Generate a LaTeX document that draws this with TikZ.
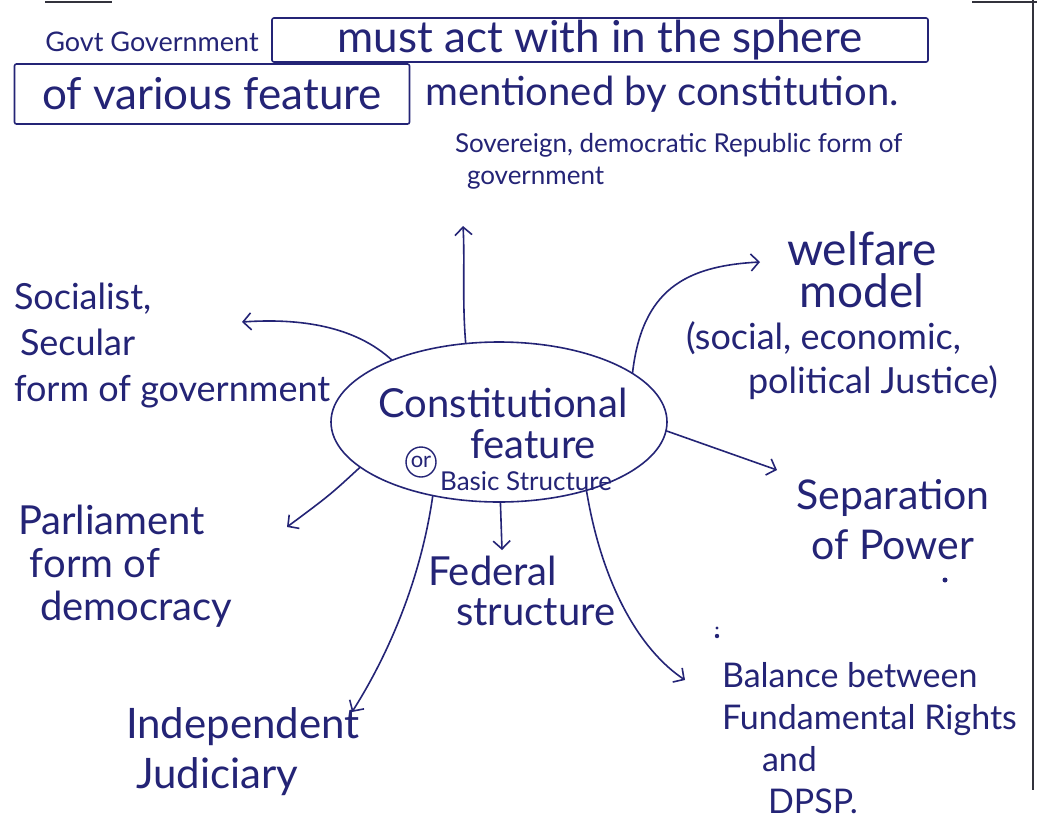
\documentclass[tikz,border=0pt]{standalone}
\usepackage{fontspec}
\setmainfont{Lato}
\usetikzlibrary{arrows.meta,shapes.geometric}
\definecolor{ink}{RGB}{36,36,118}
\definecolor{paperline}{RGB}{50,50,60}

\newcommand{\fs}[1]{\fontsize{#1}{1.18\dimexpr#1pt\relax}\selectfont}

\begin{document}
\begin{tikzpicture}[x=1pt,y=-1pt,
  every node/.style={text=ink, inner sep=0pt, outer sep=0pt},
  txt/.style={align=left},
  boxed/.style={draw=ink, line width=1.6pt, rectangle, rounded corners=2pt},
  link/.style={draw=ink, line width=1.6pt, -{Straight Barb[length=8pt,width=17pt,line width=1.6pt]}},
  edge line/.style={draw=paperline, line width=2pt}]

% page
\fill[white] (0,0) rectangle (1037,823);
\useasboundingbox (0,0) rectangle (1037,823);

% paper edges
\draw[edge line] (45,2) -- (112,2);
\draw[edge line] (972,2) -- (1037,2);
\draw[edge line] (1033,0) -- (1033,790);

% heading sentence
\node[font=\fs{27}] (govt) at (152,42) {Govt Government};
\node[boxed, minimum width=656, minimum height=44, font=\fs{44}] (sphere) at (600,40) {must act with in the sphere};
\node[boxed, minimum width=395, minimum height=60, font=\fs{44}] (various) at (212,94) {of various feature};
\node[font=\fs{40}] (mention) at (662,94) {mentioned by constitution.};

% centre
\node[draw=ink, line width=1.6pt, ellipse, minimum width=336, minimum height=160] (core) at (499,422) {};
\node[font=\fs{40}] (title) at (503,403) {Constitutional};
\node[font=\fs{40}] (feat) at (533,444) {feature};
\node[draw=ink, line width=1.4pt, circle, minimum size=30, font=\fs{22}] (ornote) at (421,462) {or};
\node[font=\fs{26}] (basic) at (526,481) {Basic Structure};

% branches
\node[txt, anchor=north west, font=\fs{26}] (sovereign) at (455,133) {Sovereign, democratic Republic form of\\[2pt]\hspace*{12pt}government};
\node[txt, anchor=north west, font=\fontsize{36}{46}\selectfont] (socialist) at (14,283) {Socialist,\\\hspace*{6pt}Secular\\form of government};
\node[align=center, font=\fontsize{46}{42}\selectfont] (welfare) at (862,270) {welfare\\model};
\node[txt, anchor=north west, font=\fontsize{36}{44}\selectfont] (justice) at (686,322) {(social, economic,\\\hspace*{62pt}political Justice)};
\node[align=center, font=\fontsize{41}{50}\selectfont] (separation) at (893,520) {Separation\\of Power};
\node[txt, anchor=north west, font=\fontsize{40}{43}\selectfont] (parliament) at (18,505) {Parliament\\\hspace*{12pt}form of\\\hspace*{22pt}democracy};
\node[txt, anchor=north west, font=\fontsize{40}{40}\selectfont] (federal) at (428,556) {Federal\\\hspace*{28pt}structure};
\node[txt, anchor=north west, font=\fontsize{42}{50}\selectfont] (judiciary) at (126,708) {Independent\\\hspace*{10pt}Judiciary};
\node[txt, anchor=north west, font=\fontsize{34}{42}\selectfont] (balance) at (722,662) {Balance between\\Fundamental Rights\\\hspace*{40pt}and\\\hspace*{46pt}DPSP.};

% stray pen dots
\fill[ink] (945,580) circle (2.5pt);
\fill[ink] (717,628) circle (1.6pt);
\fill[ink] (717,636) circle (2.2pt);

% arrow tips
\coordinate (upTip) at (463,226);
\coordinate (socTip) at (242,322);
\coordinate (welTip) at (760,262);
\coordinate (sepTip) at (777,470);
\coordinate (parTip) at (287,527);
\coordinate (fedTip) at (502,550);
\coordinate (judTip) at (352,712);
\coordinate (balTip) at (685,680);

% connectors
\draw[link] (core.113) .. controls (462,300) and (465,260) .. (upTip);
\draw[link] (core.150) .. controls (355,326) and (300,318) .. (socTip);
\draw[link] (core.20) .. controls (642,290) and (685,266) .. (welTip);
\draw[link] (core.-3) -- (sepTip);
\draw[link] (core.198) .. controls (330,495) .. (parTip);
\draw[link] (core.-89) -- (fedTip);
\draw[link] (core.228) .. controls (420,585) and (385,660) .. (judTip);
\draw[link] (core.-38) .. controls (602,585) and (640,650) .. (balTip);
\end{tikzpicture}
\end{document}
